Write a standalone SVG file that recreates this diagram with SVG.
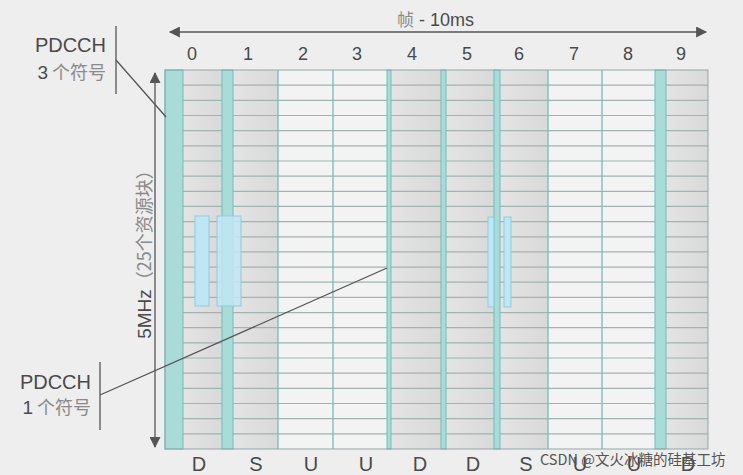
<svg xmlns="http://www.w3.org/2000/svg" width="743" height="475" viewBox="0 0 743 475">
<defs>
<style>
.t{font-family:"Liberation Sans","Noto Sans CJK SC",sans-serif;fill:#4a4a4a}
.num{font-size:18px;text-anchor:middle}
.lab{font-size:20px;text-anchor:middle}
.cjk{font-family:"Noto Sans CJK SC",sans-serif;fill:#8a8a8a}
.gray{fill:url(#gg)}
.white{fill:#f3f3f3}
.teal{fill:#a9dcd8;stroke:#6cbfba;stroke-width:1}
.row{stroke:#a3b3b2;stroke-width:1.2}
.div{stroke:#72bdb8;stroke-width:1.3}
.blue{fill:#bfe6f4;stroke:#8fcbdc;stroke-width:1}
.ln{stroke:#555;stroke-width:1.3;fill:none}
</style>
<linearGradient id="gg" x1="0" y1="0" x2="1" y2="0">
<stop offset="0" stop-color="#e4e4e4"/><stop offset="1" stop-color="#d9d9d9"/>
</linearGradient>
<marker id="ah" viewBox="0 0 10 10" refX="9" refY="5" markerWidth="15" markerHeight="11" markerUnits="userSpaceOnUse" orient="auto-start-reverse">
<path d="M0,0 L10,5 L0,10 z" fill="#555"/>
</marker>
</defs>
<rect width="743" height="475" fill="#eeeeee"/>

<g id="grid">
<rect class="gray" x="183" y="70" width="39" height="379"/>
<rect class="gray" x="233" y="70" width="45" height="379"/>
<rect class="white" x="278" y="70" width="55" height="379"/>
<rect class="white" x="333" y="70" width="54" height="379"/>
<rect class="gray" x="391" y="70" width="50" height="379"/>
<rect class="gray" x="446" y="70" width="48" height="379"/>
<rect class="gray" x="500" y="70" width="48" height="379"/>
<rect class="white" x="548" y="70" width="54" height="379"/>
<rect class="white" x="602" y="70" width="53" height="379"/>
<rect class="gray" x="666" y="70" width="42" height="379"/>
<g class="row">
<line x1="183" y1="85.2" x2="708" y2="85.2"/><line x1="183" y1="100.3" x2="708" y2="100.3"/>
<line x1="183" y1="115.5" x2="708" y2="115.5"/><line x1="183" y1="130.6" x2="708" y2="130.6"/>
<line x1="183" y1="145.8" x2="708" y2="145.8"/><line x1="183" y1="161" x2="708" y2="161"/>
<line x1="183" y1="176.1" x2="708" y2="176.1"/><line x1="183" y1="191.3" x2="708" y2="191.3"/>
<line x1="183" y1="206.4" x2="708" y2="206.4"/><line x1="183" y1="221.6" x2="708" y2="221.6"/>
<line x1="183" y1="236.8" x2="708" y2="236.8"/><line x1="183" y1="251.9" x2="708" y2="251.9"/>
<line x1="183" y1="267.1" x2="708" y2="267.1"/><line x1="183" y1="282.2" x2="708" y2="282.2"/>
<line x1="183" y1="297.4" x2="708" y2="297.4"/><line x1="183" y1="312.6" x2="708" y2="312.6"/>
<line x1="183" y1="327.7" x2="708" y2="327.7"/><line x1="183" y1="342.9" x2="708" y2="342.9"/>
<line x1="183" y1="358" x2="708" y2="358"/><line x1="183" y1="373.2" x2="708" y2="373.2"/>
<line x1="183" y1="388.4" x2="708" y2="388.4"/><line x1="183" y1="403.5" x2="708" y2="403.5"/>
<line x1="183" y1="418.7" x2="708" y2="418.7"/><line x1="183" y1="433.8" x2="708" y2="433.8"/>
</g>
<g class="div">
<line x1="278" y1="70" x2="278" y2="449"/>
<line x1="333" y1="70" x2="333" y2="449"/>
<line x1="548" y1="70" x2="548" y2="449"/>
<line x1="602" y1="70" x2="602" y2="449"/>
</g>
<rect class="teal" x="165" y="70" width="18" height="379"/>
<rect class="teal" x="222" y="70" width="11" height="379"/>
<rect class="teal" x="387" y="70" width="4" height="379"/>
<rect class="teal" x="441" y="70" width="5" height="379"/>
<rect class="teal" x="494" y="70" width="6" height="379"/>
<rect class="teal" x="655" y="70" width="11" height="379"/>
<rect x="165" y="70" width="543" height="379" fill="none" stroke="#8fa9a7" stroke-width="1"/>
</g>

<g id="blocks">
<rect class="blue" x="195" y="216" width="14" height="90"/>
<rect class="blue" x="217" y="216" width="24" height="90" fill-opacity="0.85"/>
<rect class="blue" x="488" y="217" width="6" height="90"/>
<rect class="blue" x="504" y="217" width="7" height="90"/>
</g>

<g id="connectors">
<line class="ln" x1="170" y1="32" x2="706" y2="32" marker-start="url(#ah)" marker-end="url(#ah)"/>
<line class="ln" x1="155" y1="73" x2="155" y2="447" marker-start="url(#ah)" marker-end="url(#ah)"/>
<line class="ln" x1="116" y1="26" x2="116" y2="94"/>
<line class="ln" x1="116" y1="60" x2="166" y2="117"/>
<line class="ln" x1="100" y1="362" x2="100" y2="430"/>
<line class="ln" x1="100" y1="395" x2="387" y2="268"/>
</g>

<g id="frame-label">
<text class="t" x="397" y="26" font-size="18"><tspan class="cjk" font-size="17">帧</tspan> - 10ms</text>
</g>
<g id="subframe-numbers" class="t num">
<text x="192" y="60">0</text><text x="248" y="60">1</text><text x="303" y="60">2</text>
<text x="357" y="60">3</text><text x="412" y="60">4</text><text x="467" y="60">5</text>
<text x="519" y="60">6</text><text x="574" y="60">7</text><text x="628" y="60">8</text>
<text x="681" y="60">9</text>
</g>
<g id="subframe-types" class="t lab">
<text x="199" y="471">D</text><text x="256" y="471">S</text><text x="311" y="471">U</text>
<text x="366" y="471">U</text><text x="420" y="471">D</text><text x="473" y="471">D</text>
<text x="526" y="471">S</text><text x="580" y="471">U</text><text x="634" y="471">U</text>
<text x="688" y="471">D</text>
</g>
<g id="bandwidth-label">
<text class="t" transform="translate(151,250) rotate(-90)" text-anchor="middle" font-size="19">5MHz<tspan class="cjk" font-size="18">（25个资源块）</tspan></text>
</g>
<g id="pdcch3">
<text class="t" x="106" y="52" font-size="20" text-anchor="end">PDCCH</text>
<text class="t" x="106" y="79" font-size="19" text-anchor="end">3<tspan class="cjk" font-size="18"> 个符号</tspan></text>
</g>
<g id="pdcch1">
<text class="t" x="91" y="389" font-size="20" text-anchor="end">PDCCH</text>
<text class="t" x="91" y="414" font-size="19" text-anchor="end">1<tspan class="cjk" font-size="18"> 个符号</tspan></text>
</g>
<g id="watermark">
<text x="540" y="465" font-family="'Noto Sans CJK SC',sans-serif" font-size="14.5" fill="#555">CSDN @文火冰糖的硅基工坊</text>
</g>
</svg>
